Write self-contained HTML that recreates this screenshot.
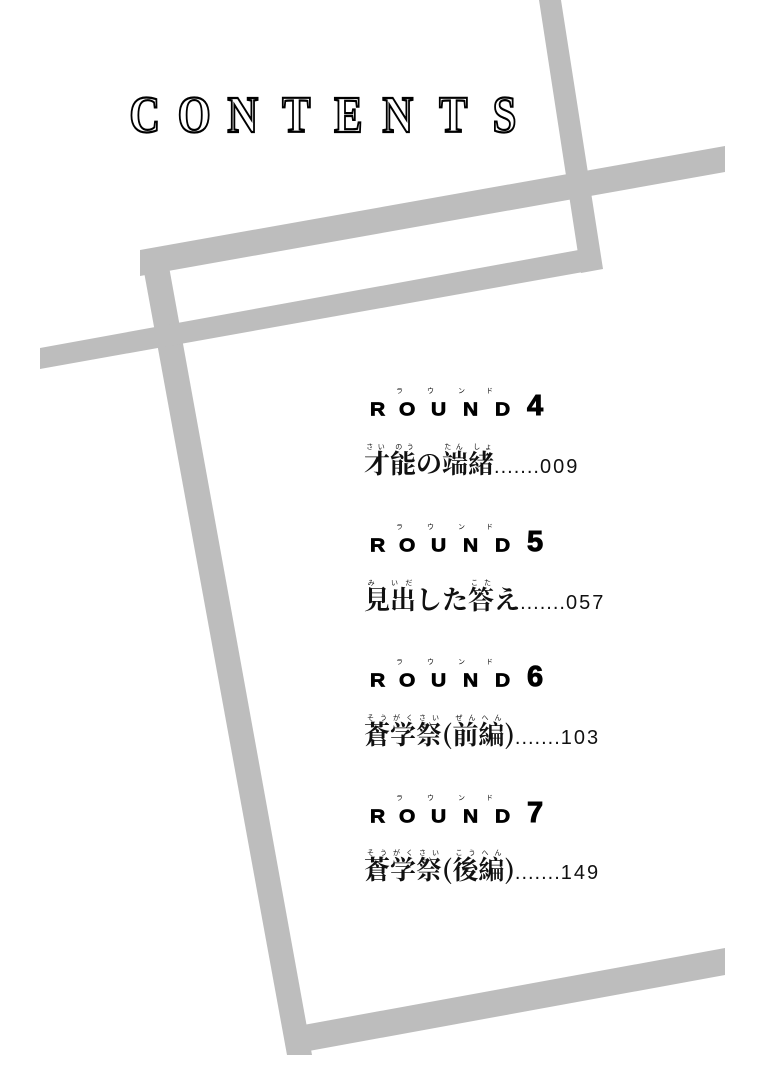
<!DOCTYPE html>
<html><head><meta charset="utf-8"><style>
html,body{margin:0;padding:0;background:#fff;}
body{width:764px;height:1079px;position:relative;overflow:hidden;}
svg{position:absolute;left:0;top:0;}
.ct{position:absolute;top:90px;font-family:"Liberation Serif",serif;font-weight:bold;font-size:52px;line-height:52px;color:#fff;-webkit-text-stroke:2.2px #000;transform:scaleX(0.82);}
.rl{position:absolute;font-family:"Liberation Sans",sans-serif;font-weight:bold;font-size:21px;line-height:21px;color:#000;-webkit-text-stroke:0.8px #000;transform:scaleY(0.9);}
.dg{position:absolute;font-family:"Liberation Sans",sans-serif;font-weight:bold;font-size:29px;line-height:29px;color:#000;-webkit-text-stroke:1px #000;}
.kf{position:absolute;font-family:"Noto Sans CJK JP",sans-serif;font-size:7px;line-height:7px;color:#111;}
.tt{position:absolute;left:364px;font-family:"Noto Serif CJK SC",serif;font-weight:bold;font-size:26px;line-height:30px;color:#111;white-space:nowrap;}
.tt ruby rt{font-family:"Noto Sans CJK JP",sans-serif;font-weight:normal;font-size:7px;line-height:7px;}
.pg{font-family:"Liberation Sans",sans-serif;font-weight:normal;font-size:20px;letter-spacing:1px;}
.pg b{font-weight:normal;letter-spacing:2px;}
</style></head><body>
<svg width="764" height="1079" viewBox="0 0 764 1079">
<g fill="#bdbdbd">
<polygon points="140,250 725,146 725,172 140,276"/>
<polygon points="140,250 166,250 312,1055 287,1055"/>
<polygon points="287,1055 725,975 725,948 287,1028"/>
<polygon points="40,348 595,247 600,269 40,369"/>
<polygon points="539,0 561,0 603,269 581,273"/>
</g>
</svg>

<div class="ct" style="left:126px">C</div>
<div class="ct" style="left:174px">O</div>
<div class="ct" style="left:224px">N</div>
<div class="ct" style="left:279px">T</div>
<div class="ct" style="left:331px">E</div>
<div class="ct" style="left:379px">N</div>
<div class="ct" style="left:436px">T</div>
<div class="ct" style="left:490px">S</div>

<div style="position:absolute;left:0;top:399px;width:764px;height:30px">
<div class="kf" style="left:396px;top:-11px">ラ</div><div class="kf" style="left:427px;top:-11px">ウ</div><div class="kf" style="left:458px;top:-11px">ン</div><div class="kf" style="left:486px;top:-11px">ド</div>
<div class="rl" style="left:370px">R</div><div class="rl" style="left:399px">O</div><div class="rl" style="left:431px">U</div><div class="rl" style="left:463px">N</div><div class="rl" style="left:495px">D</div>
<div class="dg" style="left:527px;top:-7px">4</div>
</div>
<div class="tt" style="top:442px"><ruby>才能<rt>さい のう</rt></ruby>の<ruby>端緒<rt>たん しょ</rt></ruby><span class="pg">.......<b>009</b></span></div>

<div style="position:absolute;left:0;top:535px;width:764px;height:30px">
<div class="kf" style="left:396px;top:-11px">ラ</div><div class="kf" style="left:427px;top:-11px">ウ</div><div class="kf" style="left:458px;top:-11px">ン</div><div class="kf" style="left:486px;top:-11px">ド</div>
<div class="rl" style="left:370px">R</div><div class="rl" style="left:399px">O</div><div class="rl" style="left:431px">U</div><div class="rl" style="left:463px">N</div><div class="rl" style="left:495px">D</div>
<div class="dg" style="left:527px;top:-7px">5</div>
</div>
<div class="tt" style="top:578px"><ruby>見出<rt>み いだ</rt></ruby>した<ruby>答<rt>こた</rt></ruby>え<span class="pg">.......<b>057</b></span></div>

<div style="position:absolute;left:0;top:670px;width:764px;height:30px">
<div class="kf" style="left:396px;top:-11px">ラ</div><div class="kf" style="left:427px;top:-11px">ウ</div><div class="kf" style="left:458px;top:-11px">ン</div><div class="kf" style="left:486px;top:-11px">ド</div>
<div class="rl" style="left:370px">R</div><div class="rl" style="left:399px">O</div><div class="rl" style="left:431px">U</div><div class="rl" style="left:463px">N</div><div class="rl" style="left:495px">D</div>
<div class="dg" style="left:527px;top:-7px">6</div>
</div>
<div class="tt" style="top:713px"><ruby>蒼<rt>そう</rt></ruby><ruby>学<rt>がく</rt></ruby><ruby>祭<rt>さい</rt></ruby>(<ruby>前<rt>ぜん</rt></ruby><ruby>編<rt>へん</rt></ruby>)<span class="pg">.......<b>103</b></span></div>

<div style="position:absolute;left:0;top:806px;width:764px;height:30px">
<div class="kf" style="left:396px;top:-11px">ラ</div><div class="kf" style="left:427px;top:-11px">ウ</div><div class="kf" style="left:458px;top:-11px">ン</div><div class="kf" style="left:486px;top:-11px">ド</div>
<div class="rl" style="left:370px">R</div><div class="rl" style="left:399px">O</div><div class="rl" style="left:431px">U</div><div class="rl" style="left:463px">N</div><div class="rl" style="left:495px">D</div>
<div class="dg" style="left:527px;top:-7px">7</div>
</div>
<div class="tt" style="top:848px"><ruby>蒼<rt>そう</rt></ruby><ruby>学<rt>がく</rt></ruby><ruby>祭<rt>さい</rt></ruby>(<ruby>後<rt>こう</rt></ruby><ruby>編<rt>へん</rt></ruby>)<span class="pg">.......<b>149</b></span></div>
</body></html>
